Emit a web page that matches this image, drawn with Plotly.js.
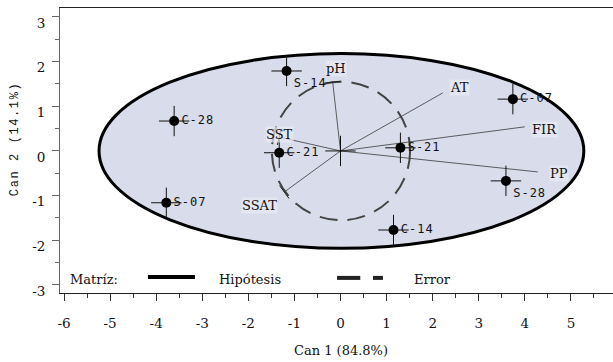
<!DOCTYPE html>
<html>
<head>
<meta charset="utf-8">
<script src="https://cdn.plot.ly/plotly-3.0.1.min.js"></script>
<style>
html,body{margin:0;padding:0;background:#fff;}
#chart{width:613px;height:362px;}
#chart text[style*="DejaVu Sans Mono"]{letter-spacing:1px;}
#chart text[style*="Liberation Mono"]{letter-spacing:1.6px;}
</style>
</head>
<body>
<div id="chart"></div>
<script>
// Canonical scores (sample means)
const sampleNames = ['S-14', 'C-28', 'C-21', 'S-21', 'C-07', 'S-28', 'C-14', 'S-07'];
const sampleX = [-1.17, -3.61, -1.33, 1.30, 3.74, 3.59, 1.15, -3.78];
const sampleY = [1.79, 0.67, -0.04, 0.07, 1.16, -0.67, -1.77, -1.16];
const sampleErrX = [0.33, 0.33, 0.33, 0.33, 0.33, 0.33, 0.33, 0.33];
const sampleErrY = [0.34, 0.34, 0.34, 0.34, 0.34, 0.34, 0.34, 0.34];

// Structure vectors (variables)
const varNames = ['pH', 'AT', 'FIR', 'PP', 'SSAT', 'SST'];
const varX = [-0.17, 2.22, 4.00, 4.28, -1.22, -1.33];
const varY = [1.54, 1.30, 0.54, -0.47, -0.92, 0.31];

// Ellipses: hypothesis and error matrices
const ellipseNames = ['Hipótesis', 'Error'];
const ellipseCx = [0.02, 0.01];
const ellipseCy = [0.0, 0.0];
const ellipseA = [5.26, 1.50];
const ellipseB = [2.18, 1.55];

// Axis ticks
const xTicks = [-6, -5, -4, -3, -2, -1, 0, 1, 2, 3, 4, 5, 6];
const yTicks = [-3, -2, -1, 0, 1, 2, 3];

// style-only settings
const samplePos = ['bottom right', 'middle right', 'middle right', 'middle right', 'middle right', 'bottom right', 'middle right', 'middle right'];
const varShift = {pH: [3, 14], AT: [17, 5], FIR: [20, -3], PP: [21, -2], SSAT: [-25, -13], SST: [0, 3]};
const varBar = {pH: true, SSAT: true, SST: true};

const vx = [], vy = [];
varNames.forEach((n, i) => { vx.push(0, varX[i], null); vy.push(0, varY[i], null); });

const traces = [
  {
    x: vx, y: vy, mode: 'lines', type: 'scatter', hoverinfo: 'skip',
    line: {color: '#3a3a3a', width: 0.8}, showlegend: false
  },
  {
    x: [0], y: [0], mode: 'markers', type: 'scatter', showlegend: false,
    marker: {size: 1, color: 'rgba(0,0,0,0)'},
    error_x: {type: 'constant', value: sampleErrX[0], color: '#111', thickness: 1, width: 0},
    error_y: {type: 'constant', value: sampleErrY[0], color: '#111', thickness: 1, width: 0}
  },
  {
    x: sampleX, y: sampleY, text: sampleNames, mode: 'markers+text', type: 'scatter',
    textposition: samplePos, showlegend: false,
    textfont: {family: 'DejaVu Sans Mono, monospace', size: 12, color: '#111'},
    marker: {size: 10, color: '#000'},
    error_x: {type: 'data', array: sampleErrX, color: '#111', thickness: 1, width: 0},
    error_y: {type: 'data', array: sampleErrY, color: '#111', thickness: 1, width: 0}
  }
];

const shapes = [];
ellipseNames.forEach((n, i) => {
  const hyp = i === 0;
  shapes.push({
    type: 'circle', xref: 'x', yref: 'y', layer: 'below',
    x0: ellipseCx[i] - ellipseA[i], x1: ellipseCx[i] + ellipseA[i],
    y0: ellipseCy[i] - ellipseB[i], y1: ellipseCy[i] + ellipseB[i],
    fillcolor: hyp ? '#d9dcea' : 'rgba(0,0,0,0)',
    line: hyp ? {color: '#000', width: 3} : {color: '#444', width: 2, dash: '18px,10px'}
  });
});
// small end bars on some vectors (perpendicular, pixel-sized)
varNames.forEach((n, i) => {
  if (!varBar[n]) return;
  const px = varX[i] * 46, py = varY[i] * 44.7;
  const L = Math.hypot(px, py);
  const ux = -py / L, uy = px / L;
  shapes.push({
    type: 'line', xref: 'x', yref: 'y', xsizemode: 'pixel', ysizemode: 'pixel',
    xanchor: varX[i], yanchor: varY[i],
    x0: -ux * 8, x1: ux * 8, y0: -uy * 8, y1: uy * 8,
    line: {color: '#222', width: 1}
  });
});
// legend line samples (paper coordinates)
shapes.push({type: 'line', xref: 'paper', yref: 'paper', x0: 0.159, x1: 0.244, y0: 0.056, y1: 0.056, line: {color: '#000', width: 4}});
shapes.push({type: 'line', xref: 'paper', yref: 'paper', x0: 0.501, x1: 0.543, y0: 0.053, y1: 0.053, line: {color: '#222', width: 4}});
shapes.push({type: 'line', xref: 'paper', yref: 'paper', x0: 0.566, x1: 0.584, y0: 0.053, y1: 0.053, line: {color: '#222', width: 4}});

const serif = 'DejaVu Serif, Liberation Serif, serif';
const annotations = varNames.map((n, i) => ({
  x: varX[i], y: varY[i], xref: 'x', yref: 'y', text: n, showarrow: false,
  xshift: varShift[n][0], yshift: varShift[n][1],
  font: {family: serif, size: 13, color: '#111'},
  bgcolor: 'rgba(232,234,244,0.7)', borderpad: 0
}));
annotations.push(
  {xref: 'paper', yref: 'paper', x: 0.0145, y: 0.046, xanchor: 'left', yanchor: 'middle', text: 'Matríz:', showarrow: false, font: {family: serif, size: 13, color: '#111'}},
  {xref: 'paper', yref: 'paper', x: 0.284, y: 0.046, xanchor: 'left', yanchor: 'middle', text: ellipseNames[0], showarrow: false, font: {family: serif, size: 13, color: '#111'}},
  {xref: 'paper', yref: 'paper', x: 0.6365, y: 0.046, xanchor: 'left', yanchor: 'middle', text: ellipseNames[1], showarrow: false, font: {family: serif, size: 13, color: '#111'}},
  {xref: 'paper', yref: 'paper', x: 0.508, y: -0.2, xanchor: 'center', yanchor: 'middle', text: 'Can 1 (84.8%)', showarrow: false, font: {family: serif, size: 13, color: '#111'}},
  {xref: 'paper', yref: 'paper', x: -0.082, y: 0.54, xanchor: 'center', yanchor: 'middle', textangle: -90, text: 'Can 2 (14.1%)', showarrow: false, font: {family: 'Liberation Mono, monospace', size: 12, color: '#111'}}
);

const layout = {
  width: 613, height: 362,
  margin: {l: 60, r: 0, t: 8, b: 69, pad: 0},
  paper_bgcolor: '#fff', plot_bgcolor: '#fff',
  showlegend: false,
  xaxis: {
    range: [-6.087, 5.913], tickvals: xTicks, ticktext: xTicks.map(String),
    showgrid: false, zeroline: false, showline: true, linecolor: '#222', linewidth: 1, mirror: true,
    ticks: 'outside', ticklen: 7, tickcolor: '#333', tickwidth: 1,
    minor: {dtick: 0.5, tick0: 0, ticks: 'outside', ticklen: 4, tickcolor: '#333', tickwidth: 1, showgrid: false},
    tickfont: {family: serif, size: 13.5, color: '#111'}, ticklabelstandoff: 11
  },
  yaxis: {
    range: [-3.18, 3.2], tickvals: yTicks, ticktext: yTicks.map(String),
    showgrid: false, zeroline: false, showline: true, linecolor: '#666', linewidth: 1,
    ticks: 'outside', ticklen: 7, tickcolor: '#666', tickwidth: 1,
    minor: {dtick: 0.5, tick0: 0, ticks: 'outside', ticklen: 4, tickcolor: '#666', tickwidth: 1, showgrid: false},
    tickfont: {family: serif, size: 13.5, color: '#111'}, ticklabelstandoff: 4, ticklabelshift: 6
  },
  shapes: shapes,
  annotations: annotations
};

Plotly.newPlot('chart', traces, layout, {staticPlot: true, displayModeBar: false});
</script>
</body>
</html>
